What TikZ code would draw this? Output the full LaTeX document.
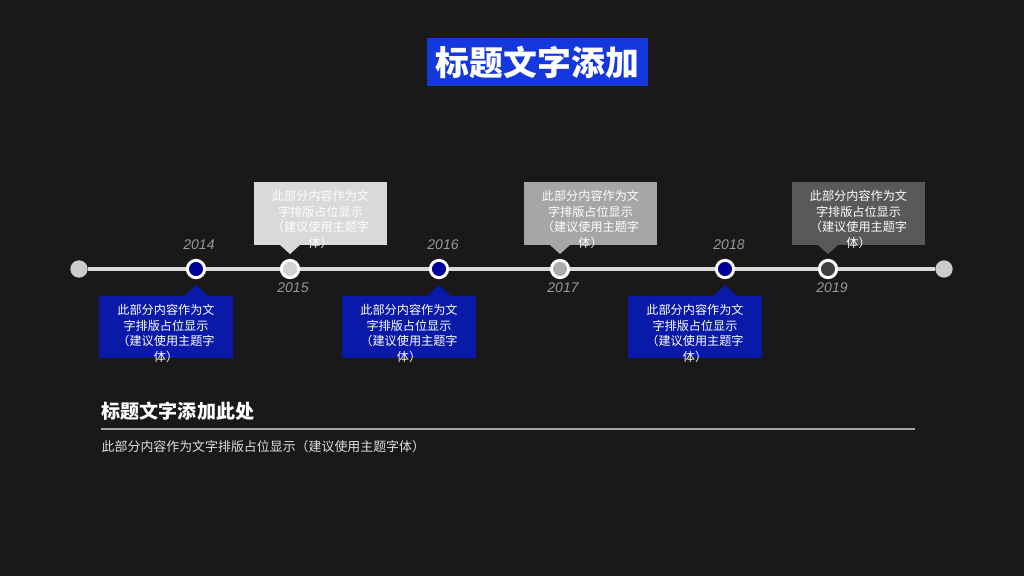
\documentclass[tikz,border=0pt]{standalone}
\usepackage{fontspec}
\setmainfont{Noto Sans CJK SC}
\newfontfamily\yearfont{Liberation Sans}
\begin{document}
\begin{tikzpicture}[x=0.75pt,y=-0.75pt,
  boxtxt/.style={font=\fontsize{9.1}{11.6}\selectfont,text=white,align=center,anchor=north},
  year/.style={font=\yearfont\fontsize{10.5}{12}\selectfont\itshape,text=gray!80},
  bdot/.style={circle,draw=white,line width=2.2pt,fill=blue!60!black,minimum size=13pt,inner sep=0},
  gdot/.style={circle,draw=white,line width=2.2pt,minimum size=13pt,inner sep=0}]
\definecolor{bg}{HTML}{1A1818}
\definecolor{bbox}{HTML}{0A1AA8}
\definecolor{tblue}{HTML}{1538DC}
\fill[bg] (0,0) rectangle (1024,576);
\useasboundingbox (0,0) rectangle (1024,576);
% title
\fill[tblue] (427,38) rectangle (648,86);
\node[font=\fontsize{25.4}{28}\selectfont\bfseries,text=white] (title) at (537.5,62) {标题文字添加};
% timeline
\node[circle,fill=gray!40,minimum size=13pt,inner sep=0] (s) at (79,269) {};
\node[circle,fill=gray!40,minimum size=13pt,inner sep=0] (e) at (944,269) {};
\draw[gray!30,line width=2.5pt] (s) -- (e);
% gray boxes
\foreach \x/\c/\n in {290/D9D9D9/a,560/A6A6A6/b,828/595959/c}{
  \definecolor{cc}{HTML}{\c}
  \fill[cc] (\x-36,182) rectangle (\x+97,245);
  \fill[cc] (\x-10,245) -- (\x,254) -- (\x+10,245) -- cycle;
  \node[boxtxt] (t\n) at (\x+30.5,186) {此部分内容作为文\\字排版占位显示\\ （建议使用主题字\\体）};
}
% blue boxes
\foreach \x/\n in {196/a,439/b,725/c}{
  \fill[bbox] (\x-97,296) rectangle (\x+37,358);
  \fill[bbox] (\x-12,296) -- (\x,285) -- (\x+12,296) -- cycle;
  \node[boxtxt] (u\n) at (\x-30,300) {此部分内容作为文\\字排版占位显示\\ （建议使用主题字\\体）};
}
% dots
\node[bdot] (d1) at (196,269) {};
\node[gdot,fill=gray!35] (d2) at (290,269) {};
\node[bdot] (d3) at (439,269) {};
\node[gdot,fill=gray!65] (d4) at (560,269) {};
\node[bdot] (d5) at (725,269) {};
\node[gdot,fill=darkgray] (d6) at (828,269) {};
% years
\node[year] (y1) at (199,245) {2014};
\node[year] (y2) at (293,288) {2015};
\node[year] (y3) at (443,245) {2016};
\node[year] (y4) at (563,288) {2017};
\node[year] (y5) at (729,245) {2018};
\node[year] (y6) at (832,288) {2019};
% bottom
\node[anchor=west,font=\fontsize{14.3}{17}\selectfont\bfseries,text=white] (sub) at (97,411) {标题文字添加此处};
\draw[gray!70,line width=0.8pt] (101,429) -- (915,429);
\node[anchor=west,font=\fontsize{9.7}{11}\selectfont,text=gray!25] (body) at (97,447) {此部分内容作为文字排版占位显示（建议使用主题字体）};
\end{tikzpicture}
\end{document}
